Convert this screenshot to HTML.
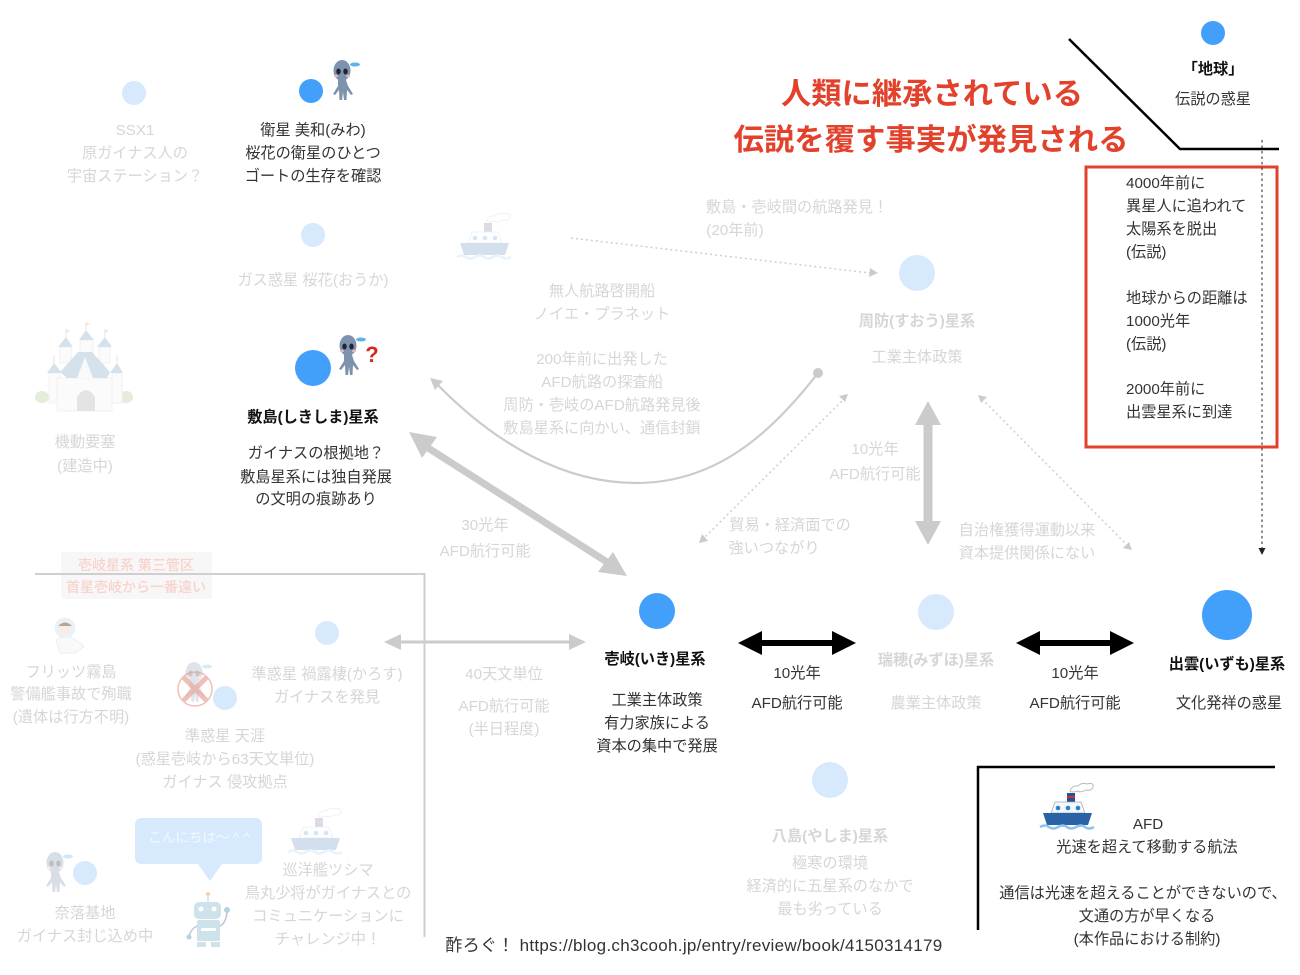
<!DOCTYPE html>
<html lang="ja"><head><meta charset="utf-8"><style>
html,body{margin:0;padding:0;background:#fff;width:1300px;height:975px;overflow:hidden}
svg{display:block;filter:blur(.35px)}
text{font-family:"Liberation Sans","Noto Sans CJK JP",sans-serif;font-size:15.200px;text-anchor:middle;fill:#333}
.f text,text.f{fill:#d6d6d6}
.b{font-weight:700;fill:#111}
.fb{font-weight:700;fill:#cfcfcf}
.l text{text-anchor:start}
</style></head><body>
<svg width="1300" height="975" viewBox="0 0 1300 975" xmlns="http://www.w3.org/2000/svg">
<defs>
<g id="alien"><ellipse cx="-1" cy="-8.500" rx="8.500" ry="10.500" fill="#7d93ad"/><ellipse cx="-4.500" cy="-7.500" rx="2.200" ry="3" fill="#223"/><ellipse cx="2.500" cy="-7.500" rx="2.200" ry="3" fill="#223"/><ellipse cx="-7" cy="-3" rx="2" ry="1.300" fill="#e8b5c0"/><ellipse cx="5" cy="-3" rx="2" ry="1.300" fill="#e8b5c0"/><path d="M-5 1h8l2 6 5 8-2 1-4-5-.5 10h-2.500l-1-8-1 8h-2.500l-.5-10-4 5-2-1 5-8z" fill="#7d93ad"/><ellipse cx="12" cy="-14.500" rx="5" ry="2" fill="#5bb5e8"/></g>
<g id="ship"><path d="M3 -14q2-6 8-5q4-4 9-2q7-2 6 3q-1 4-7 3q-5 3-9 1q-5 2-7 0z" fill="#fff" stroke="#bbb" stroke-width="1"/><rect x="0" y="-12" width="8" height="9" fill="#2a4f8f"/><rect x="0" y="-9" width="8" height="2" fill="#c33"/><path d="M-12 -3h26l4 11H-16z" fill="#f4f7fa" stroke="#9ab" stroke-width=".7"/><circle cx="-9" cy="3" r="2.300" fill="#2f7fd0"/><circle cx="1" cy="3" r="2.300" fill="#2f7fd0"/><circle cx="11" cy="3" r="2.300" fill="#2f7fd0"/><path d="M-24 8h49l-4 12H-20z" fill="#2a62a8"/><path d="M-27 22q5-3 9 0t9 0t9 0t9 0t9 0t9 0" stroke="#8cc4ec" stroke-width="2.500" fill="none"/></g>
</defs>

<!-- black / red corner (top right) -->
<path d="M1069 39L1180 149H1279" fill="none" stroke="#000" stroke-width="2.500"/>
<rect x="1086" y="167" width="191" height="280" fill="none" stroke="#e2412b" stroke-width="3"/>
<line x1="1262" y1="140" x2="1262" y2="548" stroke="#222" stroke-width="1" stroke-dasharray="2.500 3"/>
<path d="M1258.500 548h7l-3.500 7z" fill="#222"/>
<path d="M978 930V767H1275" fill="none" stroke="#000" stroke-width="2.500"/>

<!-- Title -->
<text x="932" y="104" style="font-size:30.300px;font-weight:700;fill:#e2412b">人類に継承されている</text>
<text x="931" y="150" style="font-size:30.400px;font-weight:700;fill:#e2412b">伝説を覆す事実が発見される</text>

<!-- Earth -->
<circle cx="1213" cy="33" r="12" fill="#42a0fb"/>
<text x="1213" y="74" class="b">「地球」</text>
<text x="1213" y="104">伝説の惑星</text>
<g class="l">
<text x="1126" y="188">4000年前に</text>
<text x="1126" y="211">異星人に追われて</text>
<text x="1126" y="234">太陽系を脱出</text>
<text x="1126" y="257">(伝説)</text>
<text x="1126" y="303">地球からの距離は</text>
<text x="1126" y="326">1000光年</text>
<text x="1126" y="349">(伝説)</text>
<text x="1126" y="394">2000年前に</text>
<text x="1126" y="417">出雲星系に到達</text>
</g>

<!-- Miwa -->
<circle cx="311" cy="91" r="12" fill="#42a0fb"/>
<use href="#alien" x="343" y="79"/>
<text x="313" y="135">衛星 美和(みわ)</text>
<text x="313" y="158">桜花の衛星のひとつ</text>
<text x="313" y="181">ゴートの生存を確認</text>

<!-- Shikishima -->
<circle cx="313" cy="368" r="18" fill="#42a0fb"/>
<use href="#alien" x="349" y="354"/>
<text x="372" y="362" style="font-size:22px;font-weight:700;fill:#d42a1e">?</text>
<text x="313" y="422" class="b">敷島(しきしま)星系</text>
<text x="316" y="458">ガイナスの根拠地？</text>
<text x="316" y="482">敷島星系には独自発展</text>
<text x="316" y="504">の文明の痕跡あり</text>

<!-- Iki -->
<circle cx="657" cy="611" r="18" fill="#42a0fb"/>
<text x="655" y="664" class="b">壱岐(いき)星系</text>
<text x="657" y="705">工業主体政策</text>
<text x="657" y="728">有力家族による</text>
<text x="657" y="751">資本の集中で発展</text>

<!-- Izumo -->
<circle cx="1227" cy="615" r="25" fill="#42a0fb"/>
<text x="1227" y="669" class="b">出雲(いずも)星系</text>
<text x="1229" y="708">文化発祥の惑星</text>

<!-- Black arrows -->
<g fill="#000">
<path d="M738 643l24-12v9h70v-9l24 12-24 12v-9h-70v9z"/>
<path d="M1016 643l24-12v9h70v-9l24 12-24 12v-9h-70v9z"/>
</g>
<text x="797" y="678">10光年</text>
<text x="797" y="708">AFD航行可能</text>
<text x="1075" y="678">10光年</text>
<text x="1075" y="708">AFD航行可能</text>

<!-- AFD legend -->
<use href="#ship" x="1067" y="805"/>
<text x="1148" y="829">AFD</text>
<text x="1147" y="852">光速を超えて移動する航法</text>
<text x="1143" y="898">通信は光速を超えることができないので、</text>
<text x="1147" y="921">文通の方が早くなる</text>
<text x="1147" y="944">(本作品における制約)</text>

<text x="694" y="951" style="font-size:17px;letter-spacing:.3px">酢ろぐ！ https://blog.ch3cooh.jp/entry/review/book/4150314179</text>

<!-- Faded connectors -->
<g fill="#cbcbcb" stroke="none">
<path d="M409 432L437 437 422 458z"/>
<path d="M627 576L598 572 613 552z"/>
<line x1="425" y1="446" x2="607" y2="562" stroke="#cbcbcb" stroke-width="7"/>
<path d="M928 401l13 24h-8.500v96h8.500l-13 24-13-24h8.500v-96h-8.500z"/>
<path d="M384 642l17-8v6.500h168v-6.500l17 8-17 8v-6.500H401v6.500z"/>
<path d="M430 378l13 3-8 9z"/>
<circle cx="818" cy="373" r="5"/>
<path d="M878 273l-8-5 -1 9z"/>
<path d="M848 394l-9 2 6 6z"/>
<path d="M699 543l9-2-6-7z"/>
<path d="M978 395l9 2-6 6z"/>
<path d="M1132 550l-9-2 6-6z"/>
</g>
<path d="M433 380C495 445 565 483 636 483C715 483 770 435 818 373" fill="none" stroke="#cbcbcb" stroke-width="2.200"/>
<g stroke="#cfcfcf" stroke-width="1.500" stroke-dasharray="2 3" fill="none">
<line x1="571" y1="238" x2="870" y2="273"/>
<line x1="702" y1="540" x2="845" y2="398"/>
<line x1="982" y1="399" x2="1128" y2="546"/>
</g>

<!-- Region lines -->
<rect x="61" y="552" width="151" height="47" fill="#f7f7f7"/>
<path d="M35 574H424.500V937" fill="none" stroke="#cfcfcf" stroke-width="2"/>
<text x="136" y="570" style="fill:#f8d2cb;font-weight:500;font-size:14px">壱岐星系 第三管区</text>
<text x="136" y="592" style="fill:#f8d2cb;font-weight:500;font-size:14px">首星壱岐から一番遠い</text>

<!-- Faded nodes -->
<g fill="#d6e9fd">
<circle cx="134" cy="93" r="12"/>
<circle cx="313" cy="235" r="12"/>
<circle cx="917" cy="273" r="18"/>
<circle cx="936" cy="612" r="18"/>
<circle cx="830" cy="780" r="18"/>
<circle cx="327" cy="633" r="12"/>
<circle cx="225" cy="698" r="12"/>
<circle cx="85" cy="873" r="12"/>
</g>
<g class="f">
<text x="135" y="135">SSX1</text>
<text x="135" y="158">原ガイナス人の</text>
<text x="135" y="181">宇宙ステーション？</text>
<text x="313" y="285">ガス惑星 桜花(おうか)</text>
<text x="85" y="447">機動要塞</text>
<text x="85" y="471">(建造中)</text>
<text x="797" y="212">敷島・壱岐間の航路発見！</text>
<text x="735" y="235">(20年前)</text>
<text x="602" y="296">無人航路啓開船</text>
<text x="602" y="319">ノイエ・プラネット</text>
<text x="602" y="364">200年前に出発した</text>
<text x="602" y="387">AFD航路の探査船</text>
<text x="602" y="410">周防・壱岐のAFD航路発見後</text>
<text x="602" y="433">敷島星系に向かい、通信封鎖</text>
<text x="917" y="326" class="fb">周防(すおう)星系</text>
<text x="917" y="362">工業主体政策</text>
<text x="875" y="454">10光年</text>
<text x="875" y="479">AFD航行可能</text>
<text x="485" y="530">30光年</text>
<text x="485" y="556">AFD航行可能</text>
<text x="790" y="530">貿易・経済面での</text>
<text x="774" y="553">強いつながり</text>
<text x="1027" y="535">自治権獲得運動以来</text>
<text x="1027" y="558">資本提供関係にない</text>
<text x="936" y="665" class="fb">瑞穂(みずほ)星系</text>
<text x="936" y="708">農業主体政策</text>
<text x="504" y="679">40天文単位</text>
<text x="504" y="711">AFD航行可能</text>
<text x="504" y="734">(半日程度)</text>
<text x="830" y="841" class="fb">八島(やしま)星系</text>
<text x="830" y="868">極寒の環境</text>
<text x="830" y="891">経済的に五星系のなかで</text>
<text x="830" y="914">最も劣っている</text>
<text x="71" y="677">フリッツ霧島</text>
<text x="71" y="699">警備艦事故で殉職</text>
<text x="71" y="722">(遺体は行方不明)</text>
<text x="327" y="679">準惑星 禍露棲(かろす)</text>
<text x="327" y="702">ガイナスを発見</text>
<text x="225" y="741">準惑星 天涯</text>
<text x="225" y="764">(惑星壱岐から63天文単位)</text>
<text x="225" y="787">ガイナス 侵攻拠点</text>
<text x="328" y="875">巡洋艦ツシマ</text>
<text x="328" y="898">鳥丸少将がガイナスとの</text>
<text x="328" y="921">コミュニケーションに</text>
<text x="328" y="944">チャレンジ中！</text>
<text x="85" y="918">奈落基地</text>
<text x="85" y="941">ガイナス封じ込め中</text>
</g>

<!-- Faded illustrations -->
<g opacity=".2"><use href="#ship" x="484" y="235"/><use href="#ship" x="315" y="830"/></g>
<g opacity=".3"><use href="#alien" x="56" y="871"/></g>
<g opacity=".25"><use href="#alien" x="195" y="681"/></g>
<g stroke="#e8a59c" fill="none" opacity=".7"><circle cx="195" cy="689" r="17" stroke-width="1.500"/><path d="M183 677L207 701M207 677L183 701" stroke-width="5"/></g>

<!-- Astronaut -->
<g opacity=".5"><circle cx="65" cy="628" r="10.500" fill="#cfe6f7"/><circle cx="65" cy="628" r="7" fill="#f5d9c5"/><path d="M58 626q7-7 14 0z" fill="#555"/><path d="M56 640q10-6 20 0l8 6-8 7H60z" fill="#f4f4f4" stroke="#ddd"/></g>

<!-- Castle -->
<g>
<ellipse cx="42" cy="397" rx="7" ry="6" fill="#e4edda"/><ellipse cx="126" cy="397" rx="7" ry="6" fill="#e4edda"/>
<g fill="#fbfbfb" stroke="#f0f0f0">
<rect x="80" y="340" width="13" height="14"/>
<rect x="60" y="347" width="11" height="16"/>
<rect x="99" y="347" width="11" height="16"/>
<rect x="49" y="373" width="11" height="30"/>
<rect x="112" y="373" width="10" height="30"/>
<rect x="57" y="378" width="55" height="33"/>
</g>
<g fill="#d5e2ec">
<path d="M86 330L79 340H94z"/>
<path d="M66 337L58 347H73z"/>
<path d="M105 337L97 347H112z"/>
<path d="M54 363L47 373H62z"/>
<path d="M117 363L110 373H123z"/>
<path d="M78 352H92L110 372L107 378H67L60 372z"/>
</g>
<path d="M85 357l-8 21h16z" fill="#f7f9fb"/>
<path d="M77 411v-14q9-14 18 0v14z" fill="#e4e4e4"/>
<path d="M86 322v8M66 329v8M105 329v8M54 355v8M117 355v8" stroke="#e6e6e6"/>
<path d="M86 322l4 2-4 2zM66 329l4 2-4 2zM105 329l4 2-4 2z" fill="#f6e7c8"/>
</g>

<!-- Speech bubble & robot -->
<path d="M142 818h113q7 0 7 7v32q0 7-7 7h-33l-12 17-12-17h-56q-7 0-7-7v-32q0-7 7-7z" fill="#d6e9fd"/>
<text x="199" y="842" style="fill:#f2f8ff;font-size:13.500px">こんにちは〜 ^ ^</text>
<g opacity=".5">
<rect x="194" y="902" width="27" height="17" rx="5" fill="#9cc6d6"/><circle cx="201" cy="909" r="2.500" fill="#fff"/><circle cx="214" cy="909" r="2.500" fill="#fff"/><rect x="197" y="920" width="23" height="21" rx="2" fill="#9cc6d6"/>
<rect x="201" y="928" width="15" height="3" fill="#fff"/>
<circle cx="208" cy="894" r="2" fill="#f0a060"/><line x1="208" y1="896" x2="208" y2="902" stroke="#999"/>
<path d="M197 926q-6 3-8 10M220 926q6-3 7-14" stroke="#88a" stroke-width="1.500" fill="none"/><circle cx="227" cy="910" r="3" fill="#6ab"/><circle cx="189" cy="937" r="2.500" fill="#6ab"/>
<rect x="197" y="942" width="9" height="5" fill="#9cc6d6"/><rect x="211" y="942" width="9" height="5" fill="#9cc6d6"/>
</g>
</svg>
</body></html>
